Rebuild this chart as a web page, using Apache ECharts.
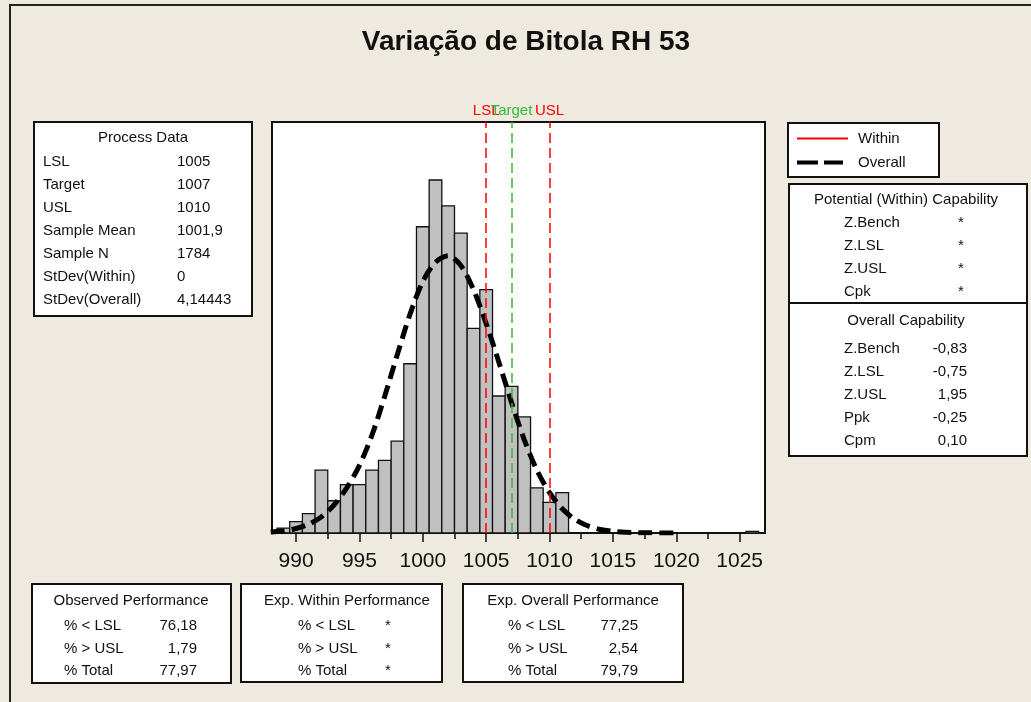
<!DOCTYPE html>
<html>
<head>
<meta charset="utf-8">
<title>Variação de Bitola RH 53</title>
<script src="https://cdn.jsdelivr.net/npm/echarts@6/dist/echarts.min.js"></script>
<style>
  html, body { margin: 0; padding: 0; background: #EEEAE0; }
  #main { width: 1031px; height: 702px; }
</style>
</head>
<body>
<div id="main"></div>
<script>
// histogram: bin centres (width 1) and counts
var binCenters = [989, 990, 991, 992, 993, 994, 995, 996, 997, 998, 999, 1000,
  1001, 1002, 1003, 1004, 1005, 1006, 1007, 1008, 1009, 1010, 1011, 1026];
var binCounts = [3, 7, 12, 39, 20, 30, 30, 39, 45, 57, 105, 190,
  219, 203, 186, 127, 151, 85, 91, 72, 28, 19, 25, 1];

// overall curve
var curveX = [988, 989, 990, 991, 992, 993, 994, 995, 996, 997, 998, 999, 1000,
  1001, 1002, 1003, 1004, 1005, 1006, 1007, 1008, 1009, 1010, 1011, 1012,
  1013, 1014, 1015, 1016, 1017, 1018, 1019, 1020];
var curveY = [0.6, 1.4, 2.8, 5.5, 10, 17.5, 28, 42, 61, 85, 111, 136, 156,
  168, 172, 166, 151, 130, 106, 81, 58, 39, 25, 15, 8.5,
  4.5, 2.2, 1, 0.4, 0.2, 0.1, 0, 0];

// spec limits
var specNames = ['LSL', 'Target', 'USL'];
var specValues = [1005, 1007, 1010];
var specColors = ['#FF0000', '#33BB33', '#FF0000'];

// x axis ticks
var majorTicks = [990, 995, 1000, 1005, 1010, 1015, 1020, 1025];
var minorTicks = [992.5, 997.5, 1002.5, 1007.5, 1012.5, 1017.5, 1022.5];

// text tables
var processLabels = ['LSL', 'Target', 'USL', 'Sample Mean', 'Sample N', 'StDev(Within)', 'StDev(Overall)'];
var processValues = ['1005', '1007', '1010', '1001,9', '1784', '0', '4,14443'];
var potentialLabels = ['Z.Bench', 'Z.LSL', 'Z.USL', 'Cpk'];
var potentialValues = ['*', '*', '*', '*'];
var overallLabels = ['Z.Bench', 'Z.LSL', 'Z.USL', 'Ppk', 'Cpm'];
var overallValues = ['-0,83', '-0,75', '1,95', '-0,25', '0,10'];
var perfLabels = ['% < LSL', '% > USL', '% Total'];
var observedValues = ['76,18', '1,79', '77,97'];
var expWithinValues = ['*', '*', '*'];
var expOverallValues = ['77,25', '2,54', '79,79'];

var FONT = '"Liberation Sans", Arial, sans-serif';

function txt(x, y, s, align, size, weight) {
  return {
    type: 'text', x: x, y: y, z: 10,
    style: {
      text: s, fill: '#111',
      font: (weight || 'normal') + ' ' + (size || 15) + 'px ' + FONT,
      textAlign: align || 'left', textVerticalAlign: 'middle'
    }
  };
}
function box(x, y, w, h) {
  return {
    type: 'rect', z: 5,
    shape: { x: x, y: y, width: w, height: h },
    style: { fill: '#fff', stroke: '#111', lineWidth: 2 }
  };
}
function hline(x1, x2, y, color, width, dash) {
  return {
    type: 'line', z: 10,
    shape: { x1: x1, y1: y, x2: x2, y2: y },
    style: { stroke: color, lineWidth: width, lineDash: dash || null }
  };
}

var g = [];
// outer frame
g.push({ type: 'rect', z: 1, shape: { x: 10, y: 5, width: 1040, height: 720 },
  style: { fill: 'none', stroke: '#222', lineWidth: 2 } });
g.push(txt(526, 42, 'Variação de Bitola RH 53', 'center', 28, 'bold'));

// process data
g.push(box(34, 122, 218, 194));
g.push(txt(143, 138, 'Process Data', 'center'));
processLabels.forEach(function (l, i) {
  g.push(txt(43, 162 + i * 23, l, 'left'));
  g.push(txt(177, 162 + i * 23, processValues[i], 'left'));
});

// legend
g.push(box(788, 123, 151, 54));
g.push(hline(797, 848, 138.5, '#FF0000', 2));
g.push(hline(797, 843, 162.5, '#000', 4, [21, 6]));
g.push(txt(858, 138.5, 'Within', 'left'));
g.push(txt(858, 162.5, 'Overall', 'left'));

// capability
g.push(box(789, 184, 238, 272));
g.push(hline(789, 1027, 303, '#111', 2));
g.push(txt(906, 200, 'Potential (Within) Capability', 'center'));
potentialLabels.forEach(function (l, i) {
  g.push(txt(844, 223 + i * 22.8, l, 'left'));
  g.push(txt(961, 223 + i * 22.8, potentialValues[i], 'center'));
});
g.push(txt(906, 321, 'Overall Capability', 'center'));
overallLabels.forEach(function (l, i) {
  g.push(txt(844, 349 + i * 23, l, 'left'));
  g.push(txt(967, 349 + i * 23, overallValues[i], 'right'));
});

// performance boxes
g.push(box(32, 584, 199, 99));
g.push(txt(131, 601, 'Observed Performance', 'center'));
g.push(box(241, 584, 201, 98));
g.push(txt(347, 601, 'Exp. Within Performance', 'center'));
g.push(box(463, 584, 220, 98));
g.push(txt(573, 601, 'Exp. Overall Performance', 'center'));
perfLabels.forEach(function (l, i) {
  var y = 626 + i * 22.5;
  g.push(txt(64, y, l, 'left'));
  g.push(txt(197, y, observedValues[i], 'right'));
  g.push(txt(298, y, l, 'left'));
  g.push(txt(388, y, expWithinValues[i], 'center'));
  g.push(txt(508, y, l, 'left'));
  g.push(txt(638, y, expOverallValues[i], 'right'));
});

var bars = binCenters.map(function (c, i) { return [c, binCounts[i]]; });
var curve = curveX.map(function (x, i) { return [x, curveY[i]]; });

var chart = echarts.init(document.getElementById('main'));
chart.setOption({
  backgroundColor: '#EEEAE0',
  animation: false,
  grid: {
    left: 272, top: 122, width: 493, height: 411,
    show: true, backgroundColor: '#fff', borderColor: '#111', borderWidth: 2
  },
  xAxis: [{
    type: 'value', min: 988.1, max: 1027,
    axisLine: { show: false },
    splitLine: { show: false },
    axisTick: { show: true, length: 9, customValues: majorTicks, lineStyle: { color: '#111', width: 1.5 } },
    axisLabel: {
      customValues: majorTicks, fontSize: 21, color: '#111', margin: 18, fontFamily: FONT,
      formatter: function (v) { return String(v); }
    }
  }, {
    type: 'value', min: 988.1, max: 1027, position: 'bottom',
    axisLine: { show: false },
    splitLine: { show: false },
    axisTick: { show: true, length: 6, customValues: minorTicks, lineStyle: { color: '#111', width: 1.5 } },
    axisLabel: { show: false }
  }],
  yAxis: {
    type: 'value', min: 0, max: 255, show: false
  },
  graphic: { elements: g },
  series: [{
    type: 'custom',
    data: bars,
    renderItem: function (params, api) {
      var p0 = api.coord([api.value(0) - 0.5, api.value(1)]);
      var p1 = api.coord([api.value(0) + 0.5, 0]);
      return {
        type: 'rect',
        shape: { x: p0[0], y: p0[1], width: p1[0] - p0[0], height: p1[1] - p0[1] },
        style: { fill: '#C0C0C0', stroke: '#111', lineWidth: 1.3 }
      };
    },
    z: 2
  }, {
    type: 'line',
    data: curve,
    smooth: 0.3,
    symbol: 'none',
    z: 4,
    lineStyle: { color: '#000', width: 5, type: [14, 7] },
    markLine: {
      silent: true,
      symbol: 'none',
      data: specValues.map(function (v, i) {
        return {
          name: specNames[i], xAxis: v,
          lineStyle: { color: specColors[i], width: 1.5, type: [10, 5] },
          label: { show: true, position: 'end', formatter: specNames[i], color: specColors[i],
            fontSize: 15, fontFamily: FONT, distance: 4 }
        };
      })
    }
  }]
});
</script>
</body>
</html>
